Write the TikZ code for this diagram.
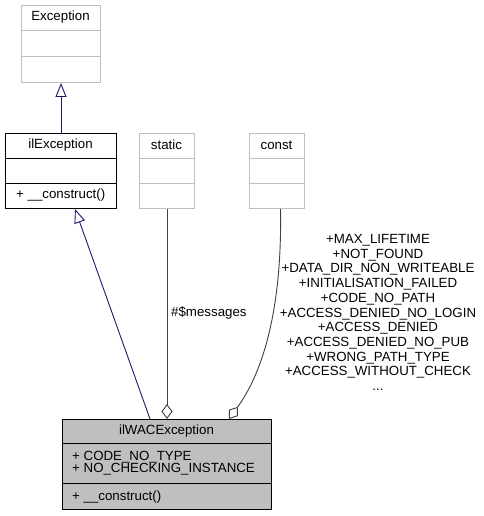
\documentclass[tikz,border=0pt]{standalone}
\usepackage{fontspec}
\setmainfont{Liberation Sans}
\usetikzlibrary{arrows.meta}
\definecolor{grayb}{HTML}{BFBFBF}
\definecolor{edgeblue}{HTML}{191970}
\definecolor{edgegray}{HTML}{404040}
\begin{document}
\begin{tikzpicture}[x=1pt,y=-1pt,
  font=\fontsize{13.3}{14.7}\selectfont,
  classbox/.style={draw=grayb, fill=white, line width=1pt, inner sep=0pt, anchor=north west},
  mainbox/.style={draw=black, fill=white, line width=1pt, inner sep=0pt, anchor=north west},
  wacbox/.style={draw=black, fill=grayb, line width=1pt, inner sep=0pt, anchor=north west},
  txt/.style={inner sep=0pt, anchor=center},
  ltxt/.style={inner sep=0pt, anchor=west},
  inh/.style={draw=edgeblue, line width=0.9pt, -{Triangle[open, length=14pt, width=11pt, fill=white]}},
  agg/.style={draw=edgegray, line width=0.9pt, -{Diamond[open, length=15pt, width=11pt, fill=white]}},
]
\useasboundingbox (0,0) rectangle (483,516);

% Exception
\node[classbox, minimum width=79pt, minimum height=77pt] (exc) at (21,5) {};
\draw[grayb, line width=1pt] (21,31) -- (100,31) (21,57) -- (100,57);
\node[txt] (exct) at (60.5,17) {Exception};

% ilException
\node[mainbox, minimum width=111pt, minimum height=75pt] (ilexc) at (5,133) {};
\draw[black, line width=1pt] (5,158) -- (116,158) (5,183) -- (116,183);
\node[txt] (ilexct) at (60.5,145) {ilException};
\node[ltxt] (ilexcm) at (16,195) {+ \_\_construct()};

% static
\node[classbox, minimum width=55pt, minimum height=75pt] (stat) at (139,133) {};
\draw[grayb, line width=1pt] (139,158) -- (194,158) (139,183) -- (194,183);
\node[txt] (statt) at (166.5,145) {static};

% const
\node[classbox, minimum width=55pt, minimum height=75pt] (cnst) at (249,133) {};
\draw[grayb, line width=1pt] (249,158) -- (304,158) (249,183) -- (304,183);
\node[txt] (cnstt) at (276.5,145) {const};

% ilWACException
\node[wacbox, minimum width=209pt, minimum height=90pt] (wac) at (62,419) {};
\draw[black, line width=1pt] (62,443) -- (271,443) (62,483) -- (271,483);
\node[txt] (wact) at (166.5,431) {ilWACException};
\node[ltxt] (waca1) at (72,457) {+ CODE\_NO\_TYPE};
\node[ltxt] (waca2) at (72,469.5) {+ NO\_CHECKING\_INSTANCE};
\node[ltxt] (wacm) at (72,497) {+ \_\_construct()};

% edges
\draw[inh] (ilexc.north) -- (exc.south);
\draw[inh] ([xshift=88pt]wac.north west) -- ([xshift=70pt]ilexc.south west);
\draw[agg] (stat.south) -- (stat.south |- wac.north);
\draw[agg] ([xshift=3.5pt]cnst.south) .. controls (282,295) and (268,365) .. ([xshift=167pt]wac.north west);

% labels
\node[ltxt] (lblmsg) at (171,313) {\#\$messages};
\node[inner sep=0pt, align=center, anchor=center] (lblconst) at (378,312.5) {+MAX\_LIFETIME\\+NOT\_FOUND\\+DATA\_DIR\_NON\_WRITEABLE\\+INITIALISATION\_FAILED\\+CODE\_NO\_PATH\\+ACCESS\_DENIED\_NO\_LOGIN\\+ACCESS\_DENIED\\+ACCESS\_DENIED\_NO\_PUB\\+WRONG\_PATH\_TYPE\\+ACCESS\_WITHOUT\_CHECK\\...};
\end{tikzpicture}
\end{document}
